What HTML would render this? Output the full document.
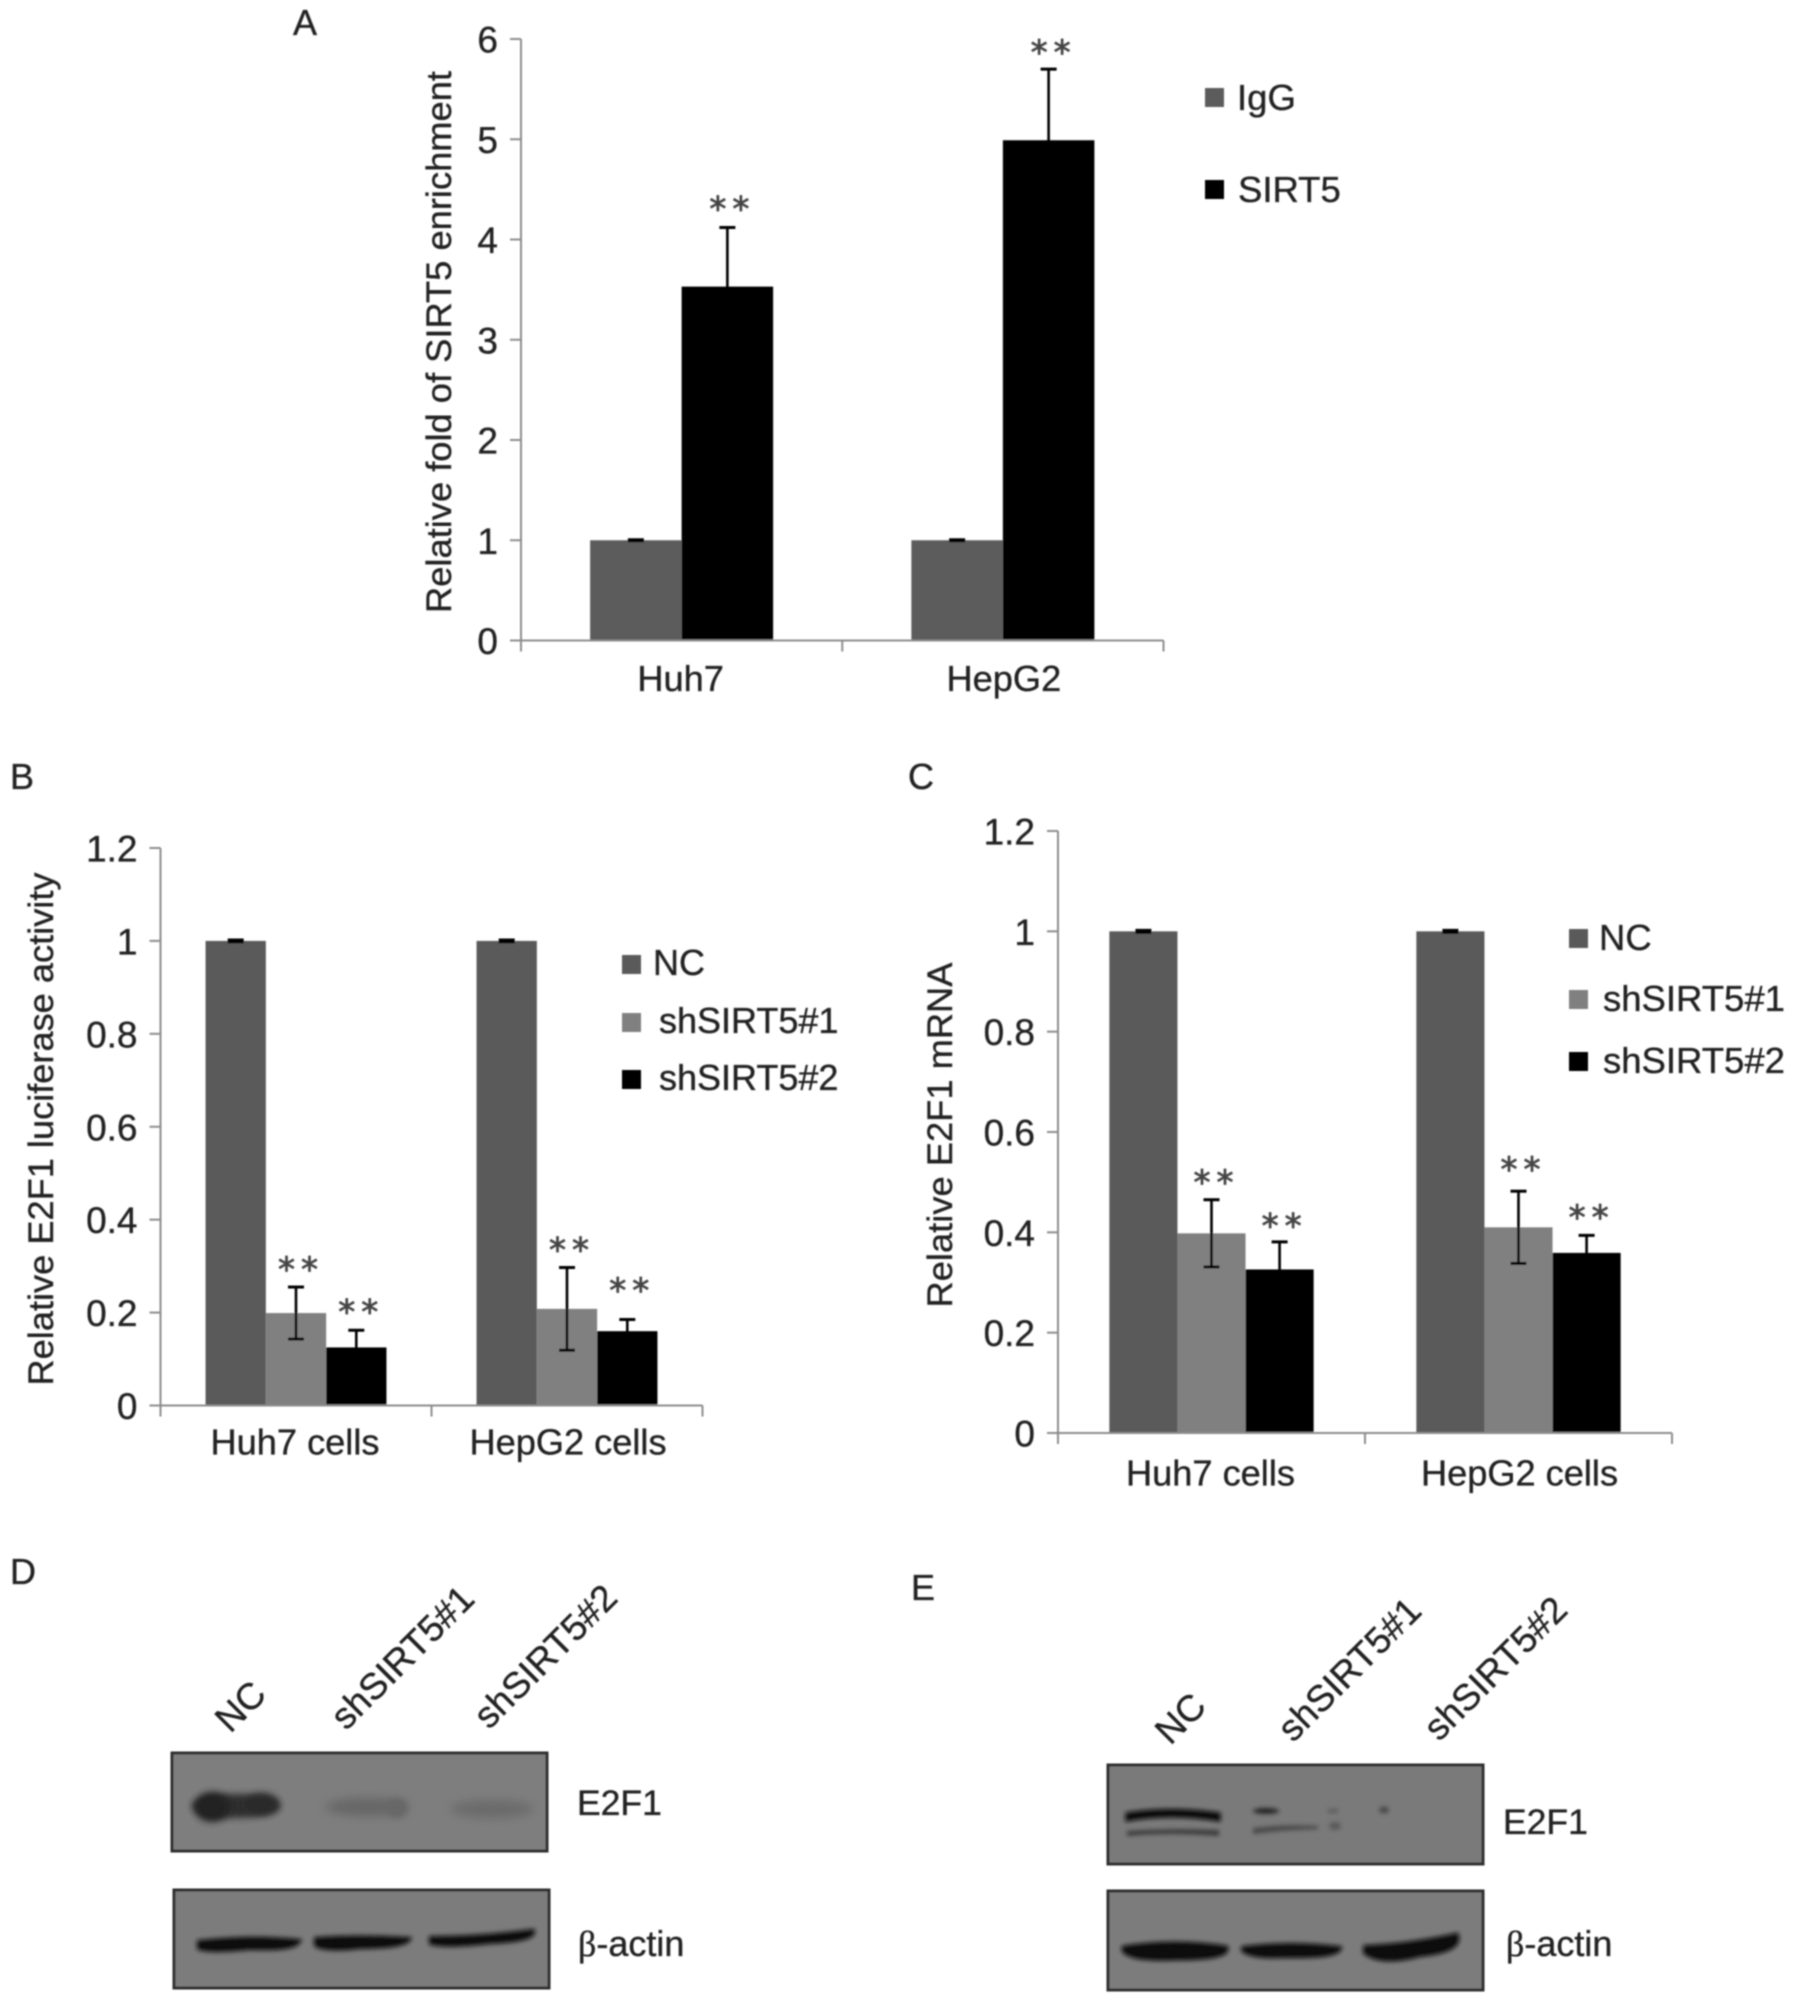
<!DOCTYPE html>
<html lang="en">
<head>
<meta charset="utf-8">
<title>SIRT5 E2F1 figure</title>
<style>
html,body{margin:0;padding:0;background:#fff;width:1795px;height:2004px;overflow:hidden}
svg{display:block}
text{font-family:"Liberation Sans",sans-serif;fill:#222;stroke:#222;stroke-width:.35}
</style>
</head>
<body>
<svg id="figure" width="1795" height="2004" viewBox="0 0 1795 2004" xmlns="http://www.w3.org/2000/svg">
  <defs>
    <filter id="soft" x="-20%" y="-20%" width="140%" height="140%"><feGaussianBlur stdDeviation="0.7"/></filter>
    <filter id="b2" x="-30%" y="-80%" width="160%" height="260%"><feGaussianBlur stdDeviation="2"/></filter>
    <filter id="b3" x="-30%" y="-80%" width="160%" height="260%"><feGaussianBlur stdDeviation="3.5"/></filter>
    <filter id="b5" x="-30%" y="-80%" width="160%" height="260%"><feGaussianBlur stdDeviation="5"/></filter>
  </defs>
  <g id="content" filter="url(#soft)">
    <text x="293" y="35" font-size="36">A</text>
    <text x="10" y="789" font-size="36">B</text>
    <text x="908" y="789" font-size="36">C</text>
    <text x="10" y="1584" font-size="36">D</text>
    <text x="911" y="1600" font-size="36">E</text>

    <g id="chart-a"></g>
    <g id="chart-b"></g>
    <g id="chart-c"></g>

    <g>
      <text font-size="37" text-anchor="middle" transform="translate(240 1706) rotate(-45)" dy="13">NC</text>
      <text font-size="37" text-anchor="middle" transform="translate(402 1657) rotate(-45)" dy="13">shSIRT5#1</text>
      <text font-size="37" text-anchor="middle" transform="translate(545 1656) rotate(-45)" dy="13">shSIRT5#2</text>
      <g>
        <rect x="172" y="1753" width="375" height="98" fill="#7e7e7e" stroke="#2e2e2e" stroke-width="3"/>
        <ellipse cx="236" cy="1806" rx="44" ry="12" fill="#2e2e2e" filter="url(#b3)"/>
        <ellipse cx="212" cy="1807" rx="18" ry="15" fill="#222" filter="url(#b3)"/>
        <ellipse cx="262" cy="1804" rx="17" ry="11" fill="#2a2a2a" filter="url(#b3)"/>
        <ellipse cx="367" cy="1807" rx="42" ry="9" fill="#666" filter="url(#b5)"/>
        <ellipse cx="397" cy="1808" rx="10" ry="10" fill="#666" filter="url(#b3)"/>
        <ellipse cx="492" cy="1809" rx="42" ry="9" fill="#6a6a6a" filter="url(#b5)"/>
      </g>
      <g>
        <rect x="174" y="1890" width="375" height="98" fill="#7b7b7b" stroke="#2e2e2e" stroke-width="3"/>
        <path d="M199 1942 Q250 1936 299 1941 Q295 1950 250 1948 Q210 1952 199 1948Z" fill="#111" stroke="#111" stroke-width="4" filter="url(#b2)"/>
        <path d="M316 1939 Q360 1936 409 1939 Q405 1947 360 1947 Q325 1951 316 1945Z" fill="#0c0c0c" stroke="#0c0c0c" stroke-width="4" filter="url(#b2)"/>
        <path d="M431 1938 Q480 1938 533 1931 Q535 1940 490 1942 Q445 1947 431 1943Z" fill="#0c0c0c" stroke="#0c0c0c" stroke-width="4" filter="url(#b2)"/>
      </g>
      <text x="577" y="1815" font-size="35.5">E2F1</text>
      <text x="578" y="1956" font-size="36"><tspan font-family="Liberation Serif">β</tspan>-actin</text>
    </g>

    <g>
      <text font-size="37" text-anchor="middle" transform="translate(1180 1718) rotate(-45)" dy="13">NC</text>
      <text font-size="37" text-anchor="middle" transform="translate(1349 1669) rotate(-45)" dy="13">shSIRT5#1</text>
      <text font-size="37" text-anchor="middle" transform="translate(1495 1668) rotate(-45)" dy="13">shSIRT5#2</text>
      <g>
        <rect x="1108" y="1765" width="375" height="99" fill="#7a7a7a" stroke="#2e2e2e" stroke-width="3"/>
        <path d="M1126 1813 Q1170 1806 1220 1813 L1220 1821 Q1170 1813 1126 1821Z" fill="#0e0e0e" stroke="#0e0e0e" stroke-width="1.5" filter="url(#b2)"/>
        <path d="M1127 1831 Q1170 1828 1219 1830 L1219 1836 Q1170 1832 1127 1836Z" fill="#3a3a3a" filter="url(#b2)"/>
        <ellipse cx="1266" cy="1811" rx="13" ry="3" fill="#222" filter="url(#b2)"/>
        <path d="M1253 1828 Q1285 1824 1318 1826 L1318 1829 Q1285 1830 1253 1834Z" fill="#484848" filter="url(#b2)"/>
        <ellipse cx="1333" cy="1811" rx="6" ry="3" fill="#626262" filter="url(#b2)"/>
        <ellipse cx="1335" cy="1826" rx="6" ry="4" fill="#5a5a5a" filter="url(#b2)"/>
        <ellipse cx="1384" cy="1810" rx="5" ry="3.5" fill="#484848" filter="url(#b2)"/>
      </g>
      <g>
        <rect x="1108" y="1891" width="375" height="99" fill="#7c7c7c" stroke="#2e2e2e" stroke-width="3"/>
        <path d="M1124 1948 Q1175 1940 1226 1948 Q1228 1958 1175 1958 Q1130 1960 1124 1950Z" fill="#0b0b0b" stroke="#0b0b0b" stroke-width="5" filter="url(#b2)"/>
        <path d="M1243 1948 Q1290 1942 1340 1948 Q1338 1957 1290 1956 Q1250 1958 1243 1950Z" fill="#0e0e0e" stroke="#0e0e0e" stroke-width="4" filter="url(#b2)"/>
        <path d="M1366 1948 Q1410 1946 1456 1936 Q1460 1950 1420 1954 Q1382 1964 1366 1952Z" fill="#080808" stroke="#080808" stroke-width="6" filter="url(#b2)"/>
      </g>
      <text x="1503" y="1834" font-size="35.5">E2F1</text>
      <text x="1506" y="1956" font-size="36"><tspan font-family="Liberation Serif">β</tspan>-actin</text>
    </g>
  </g>
</svg>
<script>
// ---- Panel A data ----
const aCategories = ['Huh7', 'HepG2'];
const aSeriesNames = ['IgG', 'SIRT5'];
const aIgG = [1, 1];
const aSirt5 = [3.53, 4.99];
const aIgGErr = [0.005, 0.005];
const aSirt5Err = [0.59, 0.71];
const aIgGStars = [null, null];
const aSirt5Stars = [4.37, 5.93];
const aTicks = [0, 1, 2, 3, 4, 5, 6];
const aTickLabels = ['0', '1', '2', '3', '4', '5', '6'];

// ---- Panel B data ----
const bCategories = ['Huh7 cells', 'HepG2 cells'];
const bSeriesNames = ['NC', 'shSIRT5#1', 'shSIRT5#2'];
const bNC = [1, 1];
const bSh1 = [0.199, 0.208];
const bSh2 = [0.125, 0.16];
const bNCErr = [0.002, 0.002];
const bSh1Err = [0.056, 0.089];
const bSh2Err = [0.037, 0.025];
const bNCStars = [null, null];
const bSh1Stars = [0.307, 0.349];
const bSh2Stars = [0.215, 0.262];
const bTicks = [0, 0.2, 0.4, 0.6, 0.8, 1, 1.2];
const bTickLabels = ['0', '0.2', '0.4', '0.6', '0.8', '1', '1.2'];

// ---- Panel C data ----
const cCategories = ['Huh7 cells', 'HepG2 cells'];
const cSeriesNames = ['NC', 'shSIRT5#1', 'shSIRT5#2'];
const cNC = [1, 1];
const cSh1 = [0.398, 0.41];
const cSh2 = [0.326, 0.359];
const cNCErr = [0.002, 0.002];
const cSh1Err = [0.067, 0.072];
const cSh2Err = [0.055, 0.035];
const cNCStars = [null, null];
const cSh1Stars = [0.512, 0.538];
const cSh2Stars = [0.426, 0.443];
const cTicks = [0, 0.2, 0.4, 0.6, 0.8, 1, 1.2];
const cTickLabels = ['0', '0.2', '0.4', '0.6', '0.8', '1', '1.2'];

const NS = 'http://www.w3.org/2000/svg';
const AXIS_COLOR = '#8c8c8c';
const ERR_COLOR = '#060606';

function slug(s) {
  return String(s).toLowerCase().replace(/[^a-z0-9]+/g, '-').replace(/^-|-$/g, '');
}
function make(parent, tag, props) {
  const node = document.createElementNS(NS, tag);
  for (const k in props) node.setAttribute(k, props[k]);
  parent.appendChild(node);
  return node;
}

function drawChart(root, o) {
  const yOf = v => o.bottom - (v / o.yMax) * (o.bottom - o.top);
  const bandW = (o.right - o.left) / o.categories.length;
  const xBand = i => o.left + bandW * i;
  const barX = (c, s) => xBand(c) + bandW / 2 + (s - o.series.length / 2) * o.barW;

  // bars, error bars, significance stars
  o.series.forEach((values, s) => {
    values.forEach((v, c) => {
      const bar = make(root, 'rect', {x: barX(c, s), y: yOf(v), width: o.barW, height: o.bottom - yOf(v), fill: o.colors[s]});
      
      

      const cx = barX(c, s) + o.barW / 2;
      const e = o.errors[s][c];
      const stem = make(root, 'line', {x1: cx, x2: cx, y1: yOf(v + e), y2: yOf(v - e), stroke: ERR_COLOR, 'stroke-width': 2.6});
      
      
      [v + e, v - e].forEach(end => {
        const cap = make(root, 'line', {x1: cx - 8, x2: cx + 8, y1: yOf(end), y2: yOf(end), stroke: ERR_COLOR, 'stroke-width': 3});
        
        
      });

      const star = o.stars[s][c];
      if (star !== null) {
        const t = make(root, 'text', {x: cx + 5, y: yOf(star) + 18, 'text-anchor': 'middle', 'font-size': 34, 'letter-spacing': 6});
        t.setAttribute('style', 'font-family:"DejaVu Sans",sans-serif;fill:#444;stroke:#444;stroke-width:.8');
        
        
        t.textContent = '**';
      }
    });
  });

  // y axis
  const yAxis = make(root, 'line', {x1: o.left, x2: o.left, y1: o.top, y2: o.bottom, stroke: AXIS_COLOR, 'stroke-width': 2});
  
  
  o.ticks.forEach((v, i) => {
    const tick = make(root, 'line', {x1: o.left - 11, x2: o.left, y1: yOf(v), y2: yOf(v), stroke: AXIS_COLOR, 'stroke-width': 2});
    
    
    const lab = make(root, 'text', {x: o.left - 23, y: yOf(v) + 13.5, 'text-anchor': 'end', 'font-size': o.tickFont});
    
    
    lab.textContent = o.tickLabels[i];
  });

  // x axis
  const xAxis = make(root, 'line', {x1: o.left, x2: o.right, y1: o.bottom, y2: o.bottom, stroke: AXIS_COLOR, 'stroke-width': 2});
  
  
  for (let i = 0; i <= o.categories.length; i++) {
    const tick = make(root, 'line', {x1: xBand(i), x2: xBand(i), y1: o.bottom, y2: o.bottom + 11, stroke: AXIS_COLOR, 'stroke-width': 2});
    
    
  }
  o.categories.forEach((name, i) => {
    const lab = make(root, 'text', {x: xBand(i) + bandW / 2 + (i === 1 ? 1 : -1), y: o.xLabelY, 'text-anchor': 'middle', 'font-size': 36.2});
    
    
    lab.textContent = name;
  });

  // y title
  const title = make(root, 'text', {
    transform: 'translate(' + o.titleX + ' ' + o.titleMid + ') rotate(-90)',
    'text-anchor': 'middle', 'font-size': 35.5,
    textLength: o.titleLen, lengthAdjust: 'spacingAndGlyphs'
  });
  
  
  title.textContent = o.title;

  // legend
  o.seriesNames.forEach((name, s) => {
    const sw = make(root, 'rect', {x: o.legendX, y: o.legendY[s], width: o.legendSize, height: o.legendSize, fill: o.colors[s]});
    
    
    const t = make(root, 'text', {x: o.legendTextX[s], y: o.legendY[s] + o.legendBase, 'font-size': o.legendFont});
    
    
    t.textContent = name;
  });
}

drawChart(document.getElementById('chart-a'), {
  left: 521, right: 1163.5, top: 39, bottom: 640.5, yMax: 6, barW: 91.5,
  categories: aCategories, seriesNames: aSeriesNames,
  series: [aIgG, aSirt5], errors: [aIgGErr, aSirt5Err], stars: [aIgGStars, aSirt5Stars],
  colors: ['#5c5c5c', '#050505'],
  ticks: aTicks, tickLabels: aTickLabels, tickFont: 37,
  xLabelY: 691, title: 'Relative fold of SIRT5 enrichment', titleX: 451, titleMid: 342, titleLen: 542,
  legendX: 1205, legendY: [88, 180], legendSize: 19, legendBase: 22, legendFont: 36.5, legendTextX: [1237, 1238]
});
drawChart(document.getElementById('chart-b'), {
  left: 160.5, right: 702.5, top: 848, bottom: 1405.5, yMax: 1.2, barW: 60.3,
  categories: bCategories, seriesNames: bSeriesNames,
  series: [bNC, bSh1, bSh2], errors: [bNCErr, bSh1Err, bSh2Err], stars: [bNCStars, bSh1Stars, bSh2Stars],
  colors: ['#5a5a5a', '#808080', '#050505'],
  ticks: bTicks, tickLabels: bTickLabels, tickFont: 37,
  xLabelY: 1454.5, title: 'Relative E2F1 luciferase activity', titleX: 53, titleMid: 1129, titleLen: 513,
  legendX: 622, legendY: [955, 1013, 1070], legendSize: 19, legendBase: 20, legendFont: 36, legendTextX: [653, 659, 659]
});
drawChart(document.getElementById('chart-c'), {
  left: 1058, right: 1672, top: 831, bottom: 1433, yMax: 1.2, barW: 68.1,
  categories: cCategories, seriesNames: cSeriesNames,
  series: [cNC, cSh1, cSh2], errors: [cNCErr, cSh1Err, cSh2Err], stars: [cNCStars, cSh1Stars, cSh2Stars],
  colors: ['#5a5a5a', '#808080', '#050505'],
  ticks: cTicks, tickLabels: cTickLabels, tickFont: 37,
  xLabelY: 1485.5, title: 'Relative E2F1 mRNA', titleX: 952, titleMid: 1135, titleLen: 345,
  legendX: 1569, legendY: [929, 990, 1052], legendSize: 19, legendBase: 21, legendFont: 36.5, legendTextX: [1599, 1603, 1603]
});
</script>
</body>
</html>
